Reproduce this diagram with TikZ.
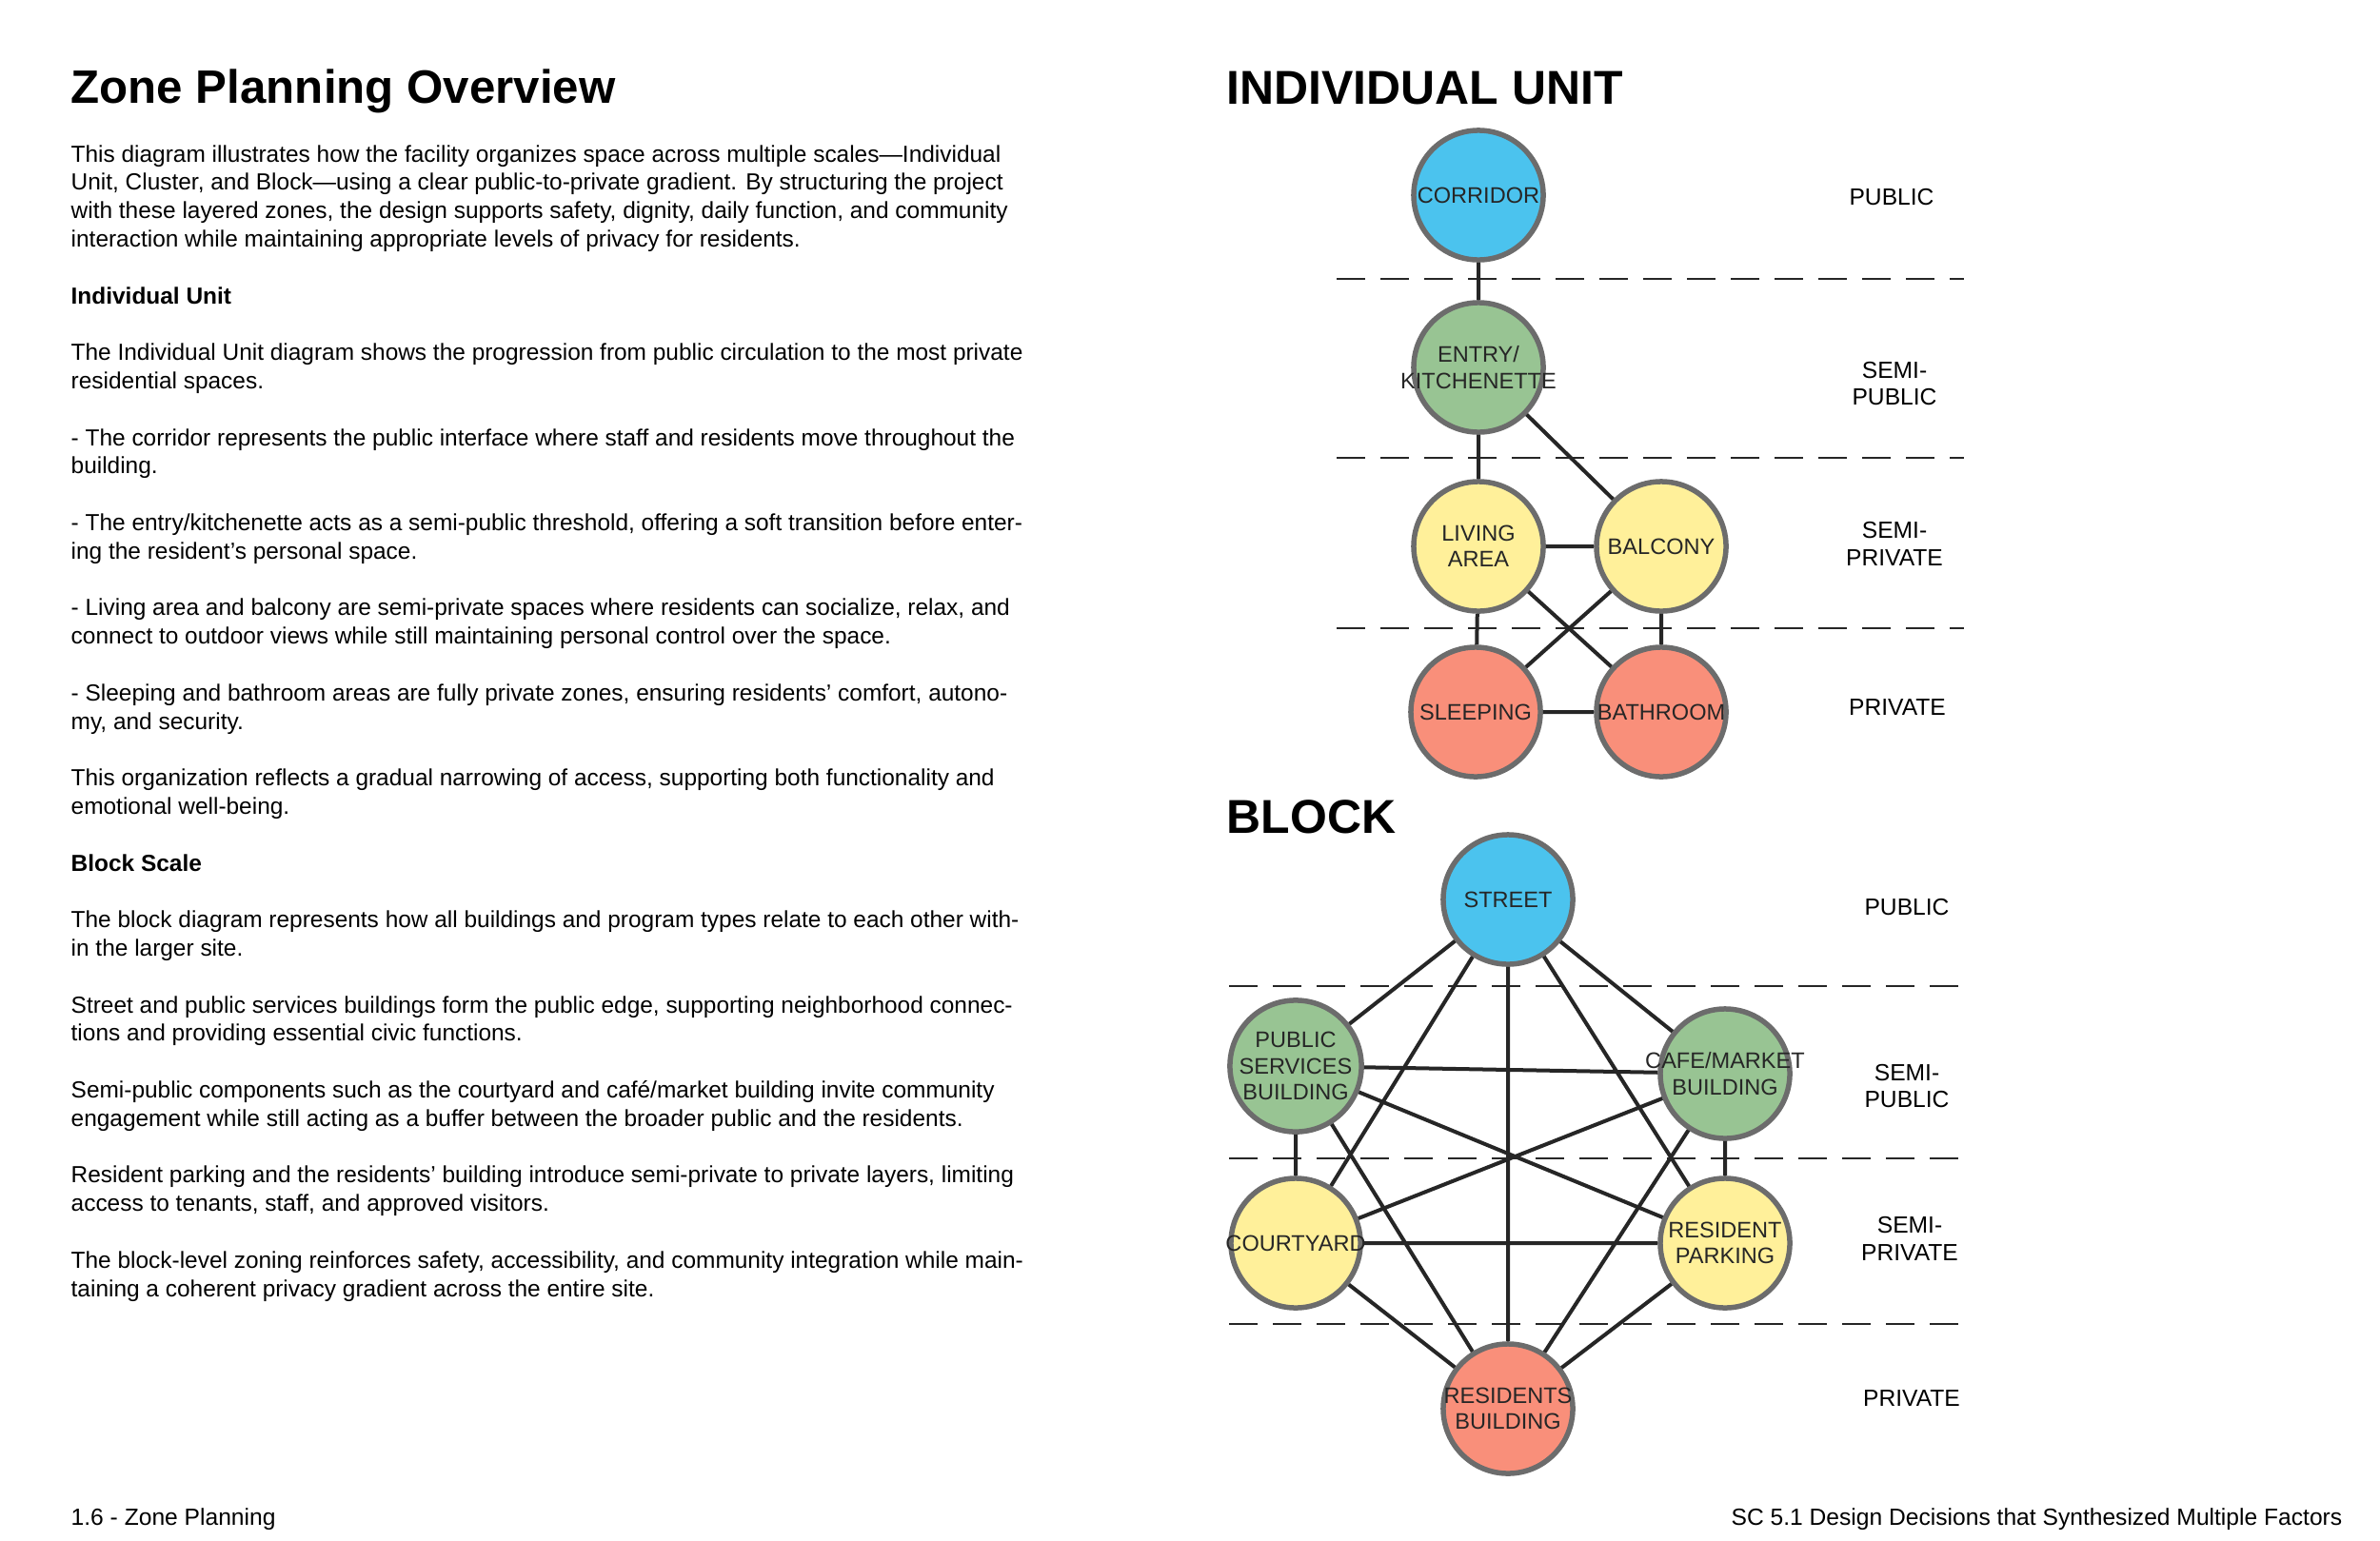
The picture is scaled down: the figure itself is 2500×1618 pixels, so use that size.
\documentclass[tikz,border=0pt]{standalone}
\usepackage{fontspec}
\setmainfont{Liberation Sans}
\newcommand{\zc}[1]{\makebox[0pt]{#1}}
\begin{document}
\begin{tikzpicture}[x=0.01cm,y=-0.01cm,
 zone/.style={circle,draw=gray!85!black,line width=0.055cm,minimum size=1.36cm,inner sep=0pt,align=center,font=\fontsize{6.7}{7.8}\selectfont,text=black!85},
 pub/.style={zone,fill={rgb,255:red,75;green,195;blue,238}},
 semipub/.style={zone,fill={rgb,255:red,152;green,196;blue,147}},
 semipriv/.style={zone,fill={rgb,255:red,255;green,240;blue,154}},
 priv/.style={zone,fill={rgb,255:red,249;green,143;blue,122}},
 link/.style={line width=0.04cm,black!85},
 sep/.style={line width=0.025cm,black!85,dash pattern=on 0.3cm off 0.16cm},
 zlabel/.style={align=center,font=\fontsize{7}{8.2}\selectfont},
 body/.style={anchor=base west,inner sep=0pt,font=\fontsize{6.95}{8.5}\selectfont},
 head/.style={anchor=base west,inner sep=0pt,font=\fontsize{14.2}{17}\selectfont\bfseries}]
\useasboundingbox (0,0) rectangle (2500,1618);
\fill[white] (0,0) rectangle (2500,1618);
% left text
\node[anchor=base west,inner sep=0pt,font=\fontsize{14}{16}\selectfont\bfseries] (title) at (74,108) {Zone Planning Overview};
\foreach \t [count=\i] in {
{This diagram illustrates how the facility organizes space across multiple scales---Individual},
{Unit, Cluster, and Block---using a clear public-to-private gradient. By structuring the project},
{with these layered zones, the design supports safety, dignity, daily function, and community},
{interaction while maintaining appropriate levels of privacy for residents.},{},
{\textbf{Individual Unit}},{},
{The Individual Unit diagram shows the progression from public circulation to the most private},
{residential spaces.},{},
{- The corridor represents the public interface where staff and residents move throughout the},
{building.},{},
{- The entry/kitchenette acts as a semi-public threshold, offering a soft transition before enter-},
{ing the resident’s personal space.},{},
{- Living area and balcony are semi-private spaces where residents can socialize, relax, and},
{connect to outdoor views while still maintaining personal control over the space.},{},
{- Sleeping and bathroom areas are fully private zones, ensuring residents’ comfort, autono-},
{my, and security.},{},
{This organization reflects a gradual narrowing of access, supporting both functionality and},
{emotional well-being.},{},
{\textbf{Block Scale}},{},
{The block diagram represents how all buildings and program types relate to each other with-},
{in the larger site.},{},
{Street and public services buildings form the public edge, supporting neighborhood connec-},
{tions and providing essential civic functions.},{},
{Semi-public components such as the courtyard and café/market building invite community},
{engagement while still acting as a buffer between the broader public and the residents.},{},
{Resident parking and the residents’ building introduce semi-private to private layers, limiting},
{access to tenants, staff, and approved visitors.},{},
{The block-level zoning reinforces safety, accessibility, and community integration while main-},
{taining a coherent privacy gradient across the entire site.}}
 \node[body] (t\i) at (74,{170+(\i-1)*29.8}) {\t};
\node[body,font=\fontsize{7}{8}\selectfont] (footl) at (74,1602) {1.6 - Zone Planning};
\node[anchor=base east,inner sep=0pt,font=\fontsize{7}{8}\selectfont] (footr) at (2461,1602) {SC 5.1 Design Decisions that Synthesized Multiple Factors};
% individual unit
\node[head] (hu) at (1288,110) {INDIVIDUAL UNIT};
\foreach \y in {293,481,660} \draw[sep] (1404,\y) -- (2063,\y);
\node[pub] (cor) at (1553,205) {CORRIDOR};
\node[semipub] (ent) at (1553,386) {\zc{ENTRY/}\\\zc{KITCHENETTE}};
\node[semipriv] (liv) at (1553,574) {LIVING\\AREA};
\node[semipriv] (bal) at (1745,574) {BALCONY};
\node[priv] (sle) at (1550,748) {SLEEPING};
\node[priv] (bat) at (1745,748) {\zc{BATHROOM}};
\draw[link] (cor)--(ent) (ent)--(liv) (ent)--(bal) (liv)--(bal) (liv)--(sle) (liv)--(bat) (bal)--(sle) (bal)--(bat) (sle)--(bat);
\node[zlabel] (l1) at (1987,207) {PUBLIC};
\node[zlabel] (l2) at (1990,403) {SEMI-\\PUBLIC};
\node[zlabel] (l3) at (1990,571) {SEMI-\\PRIVATE};
\node[zlabel] (l4) at (1993,743) {PRIVATE};
% block
\node[head] (hb) at (1288,875) {BLOCK};
\foreach \y in {1036,1217,1391} \draw[sep] (1291,\y) -- (2063,\y);
\node[pub] (st) at (1584,945) {STREET};
\node[semipub] (ps) at (1361,1120) {PUBLIC\\SERVICES\\BUILDING};
\node[semipub] (cm) at (1812,1128) {\zc{CAFE/MARKET}\\\zc{BUILDING}};
\node[semipriv] (ct) at (1361,1306) {\zc{COURTYARD}};
\node[semipriv] (rp) at (1812,1306) {RESIDENT\\PARKING};
\node[priv] (rb) at (1584,1480) {\zc{RESIDENTS}\\\zc{BUILDING}};
\draw[link] (st)--(ps) (st)--(cm) (st)--(ct) (st)--(rp) (st)--(rb)
 (ps)--(cm) (ps)--(rp) (ps)--(ct) (ps)--(rb)
 (cm)--(ct) (cm)--(rp) (cm)--(rb)
 (ct)--(rp) (ct)--(rb) (rp)--(rb);
\node[zlabel] (b1) at (2003,953) {PUBLIC};
\node[zlabel] (b2) at (2003,1141) {SEMI-\\PUBLIC};
\node[zlabel] (b3) at (2006,1301) {SEMI-\\PRIVATE};
\node[zlabel] (b4) at (2008,1469) {PRIVATE};
\end{tikzpicture}
\end{document}
